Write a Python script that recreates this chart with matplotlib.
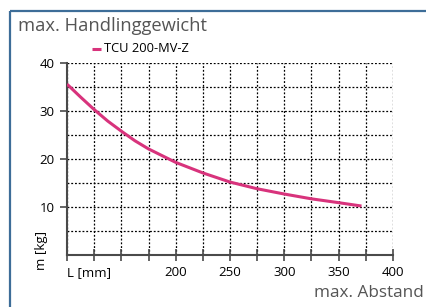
import matplotlib
matplotlib.use("Agg")
import matplotlib.pyplot as plt
from matplotlib.lines import Line2D
from matplotlib.ticker import MultipleLocator, FixedLocator

plt.rcParams['font.family'] = ['Open Sans', 'DejaVu Sans']

title = "max. Handlinggewicht"
series_name = "TCU 200-MV-Z"
x_label = "max. Abstand"
y_label = "m [kg]"
x_unit_label = "L [mm]"

x_vals = [100, 112.5, 125, 137.5, 150, 162.5, 175, 200, 225, 250, 275, 300, 325, 350, 371]
y_vals = [35.6, 32.9, 30.3, 27.9, 25.8, 23.8, 22.1, 19.3, 17.1, 15.2, 13.8, 12.7, 11.7, 10.9, 10.2]

x_ticks = [100, 200, 250, 300, 350, 400]
x_tick_labels = [x_unit_label, "200", "250", "300", "350", "400"]
y_ticks = [10, 20, 30, 40]

line_color = "#d8337c"
frame_color = "#3d6d98"

fig = plt.figure(figsize=(4.27, 3.07), dpi=100)
fig.patch.set_facecolor("white")

# frame lines (top and left)
fig.add_artist(Line2D([10/427, 1], [1-11/307, 1-11/307], color=frame_color, lw=1.6,
                      solid_capstyle='butt', transform=fig.transFigure))
fig.add_artist(Line2D([10/427, 10/427], [0, 1-11/307], color=frame_color, lw=1.6,
                      solid_capstyle='butt', transform=fig.transFigure))

ax = fig.add_axes([67/427, 1-255/307, (393-67)/427, (255-63)/307])
ax.plot(x_vals, y_vals, color=line_color, lw=2.2, solid_capstyle='butt', solid_joinstyle='round', zorder=3)
ax.set_xlim(100, 400)
ax.set_ylim(0, 40)

ax.xaxis.set_major_locator(FixedLocator(x_ticks))
ax.set_xticklabels(x_tick_labels)
ax.xaxis.set_minor_locator(MultipleLocator(25))
ax.yaxis.set_major_locator(FixedLocator(y_ticks))
ax.yaxis.set_minor_locator(MultipleLocator(5))

ax.grid(which='both', color='black', linestyle=(0, (1.5, 1.5)), lw=0.9)
ax.set_axisbelow(True)

for s in ['top', 'right']:
    ax.spines[s].set_visible(False)
for s in ['left', 'bottom']:
    ax.spines[s].set_color('#4a4a4a')
    ax.spines[s].set_linewidth(1.5)

ax.tick_params(axis='x', which='both', direction='inout', length=8, width=1.2, color='#4a4a4a', labelsize=9.5, pad=4)
ax.tick_params(axis='y', which='major', direction='out', length=5, width=1.2, color='#4a4a4a', labelsize=9.5, pad=4)
ax.tick_params(axis='y', which='minor', length=0)
ax.get_xticklabels()[0].set_horizontalalignment('left')

fig.text(18/427, 1-26/307, title, fontsize=13.2, color='#555555', va='center', ha='left')
fig.text(424/427, 1-293/307, x_label, fontsize=12.3, color='#555555', va='center', ha='right')
fig.text(42/427, 1-250/307, y_label, fontsize=9.5, color='black', rotation=90, va='center', ha='center')

# legend
fig.add_artist(Line2D([92/427, 101/427], [1-49/307, 1-49/307], color=line_color, lw=2.2,
                      solid_capstyle='butt', transform=fig.transFigure))
fig.text(104/427, 1-49/307, series_name, fontsize=9.3, color='black', va='center', ha='left')

fig.savefig("out.png", dpi=100)
